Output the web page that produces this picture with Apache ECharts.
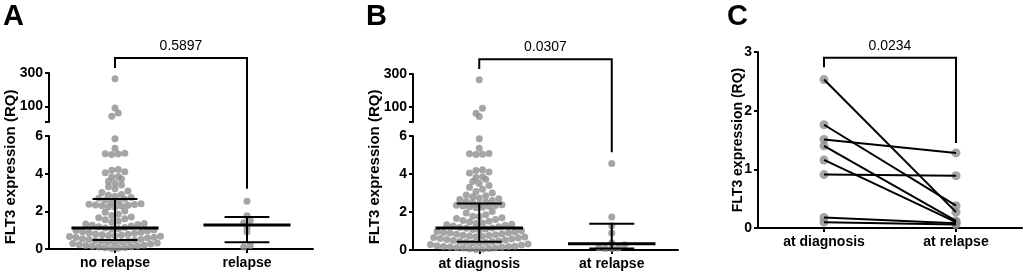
<!DOCTYPE html>
<html>
<head>
<meta charset="utf-8">
<script src="https://cdn.jsdelivr.net/npm/echarts@6/dist/echarts.min.js"></script>
<style>
html, body { margin: 0; padding: 0; background: #fff; }
#chart { width: 1025px; height: 274px; }
</style>
</head>
<body>
<div id="chart"></div>
<script>
// FLT3 expression (RQ) per patient
var noRelapse = [
    0.02, 0.04, 0.06, 0.08, 0.1, 0.12, 0.14, 0.16, 0.18, 0.2, 0.23, 0.26, 0.29, 0.32,
    0.35, 0.37, 0.39, 0.41, 0.43, 0.45, 0.47, 0.5, 0.52, 0.55, 0.58, 0.61, 0.63, 0.66, 0.68,
    0.7, 0.72, 0.74, 0.76, 0.78, 0.8, 0.83, 0.86, 0.89, 0.92, 0.95, 0.98, 1.01,
    1.05, 1.08, 1.11, 1.14, 1.18, 1.22, 1.26, 1.3, 1.33, 1.36,
    1.42, 1.48, 1.55, 1.6, 1.66, 1.7,
    1.78, 1.85, 1.95, 2.02,
    2.22, 2.25, 2.28, 2.3, 2.32, 2.34, 2.36, 2.38, 2.4,
    2.48, 2.55, 2.6, 2.66, 2.7, 2.74,
    2.8, 2.85, 2.9, 3.0, 3.08,
    3.2, 3.3, 3.4, 3.5, 3.6, 3.72,
    3.82, 3.85, 4.05, 4.1, 4.18, 4.22,
    5.02, 5.04, 5.06, 5.08, 5.35, 5.85,
    40, 60, 90, 265
];
// relapsed patients, paired: value at diagnosis / value at relapse
var pairDx = [2.53, 1.76, 1.51, 1.40, 1.16, 0.91, 0.18, 0.10];
var pairRx = [0.27, 0.38, 1.28, 0.12, 0.10, 0.89, 0.08, 0.06];
var extraRx = [4.55, 1.74];

var atDiagnosis = noRelapse.concat(pairDx);
var atRelapse = extraRx.concat(pairRx);

var catA = ['no relapse', 'relapse'];
var catB = ['at diagnosis', 'at relapse'];

// median, q1, q3 of each group
var statsA = [[0, 1.11, 0.48, 2.65], [1, 1.27, 0.36, 1.70]];
var statsB = [[0, 1.16, 0.43, 2.45], [1, 0.33, 0.08, 1.38]];

var lowTicks = [0, 2, 4, 6];
var highTicks = [100, 300];
var highTickMarks = [6, 100, 300];
var cTicks = [0, 1, 2, 3];

var pValues = ['0.5897', '0.0307', '0.0234'];
var bracketTop = [390, 390, 2.9];
var bracketLeft = [330, 330, 2.74];
var bracketRight = [3.2, 5.15, 1.45];

var FONT = 'Arial, "Liberation Sans", sans-serif';
var BLACK = '#000';
var DOT = '#8e8e8e';
var LOW_MAX = 6;

var chart = echarts.init(document.getElementById('chart'));

var line2 = {color: BLACK, width: 2};

function xAxis(grid, cats, show) {
    return {
        type: 'value', gridIndex: grid, min: -0.5, max: 1.5, show: show,
        axisLine: {show: true, onZero: false, lineStyle: line2},
        axisTick: {show: true, length: 4, customValues: [0, 1], lineStyle: line2},
        axisLabel: {
            customValues: [0, 1],
            formatter: function (v) { return cats[Math.round(v)]; },
            color: BLACK, fontWeight: 'bold', fontSize: 14, fontFamily: FONT, margin: 7
        },
        splitLine: {show: false}
    };
}

function yAxis(grid, min, max, labels, marks) {
    return {
        type: 'value', gridIndex: grid, min: min, max: max,
        axisLine: {show: true, onZero: false, lineStyle: line2},
        axisTick: {show: true, length: 4, customValues: marks || labels, lineStyle: line2},
        axisLabel: {
            customValues: labels, color: BLACK, fontWeight: 'bold',
            fontSize: 14, fontFamily: FONT, margin: 6
        },
        splitLine: {show: false}
    };
}

function gridAt(left, top, width, height) {
    return {left: left, top: top, width: width, height: height,
        containLabel: false, outerBoundsMode: 'none'};
}

function barItem(params, api) {
    var x = api.value(0), med = api.value(1), q1 = api.value(2), q3 = api.value(3);
    var a = api.coord([x - 0.33, med]), b = api.coord([x + 0.33, med]);
    var c1 = api.coord([x - 0.17, q1]), c2 = api.coord([x + 0.17, q1]);
    var d1 = api.coord([x - 0.17, q3]), d2 = api.coord([x + 0.17, q3]);
    var v1 = api.coord([x, q1]), v2 = api.coord([x, q3]);
    var st = {stroke: BLACK, lineWidth: 2};
    return {
        type: 'group',
        children: [
            {type: 'line', shape: {x1: v1[0], y1: v1[1], x2: v2[0], y2: v2[1]}, style: st},
            {type: 'line', shape: {x1: c1[0], y1: c1[1], x2: c2[0], y2: c2[1]}, style: st},
            {type: 'line', shape: {x1: d1[0], y1: d1[1], x2: d2[0], y2: d2[1]}, style: st},
            {type: 'line', shape: {x1: a[0], y1: a[1], x2: b[0], y2: b[1]},
                style: {stroke: BLACK, lineWidth: 3}}
        ]
    };
}

function dots(xi, yi) {
    return {type: 'scatter', xAxisIndex: xi, yAxisIndex: yi, symbolSize: 7,
        itemStyle: {color: DOT}, data: [], z: 2};
}

var option = {
    animation: false,
    grid: [
        gridAt(49, 73, 264, 49),     // A upper segment
        gridAt(49, 136, 264, 113),   // A lower segment
        gridAt(413, 74, 265, 48),    // B upper segment
        gridAt(413, 136, 265, 114),  // B lower segment
        gridAt(758, 52, 264, 176)    // C
    ],
    xAxis: [
        xAxis(0, catA, false), xAxis(1, catA, true),
        xAxis(2, catB, false), xAxis(3, catB, true),
        xAxis(4, catB, true)
    ],
    yAxis: [
        yAxis(0, 6, 300, highTicks, highTickMarks), yAxis(1, 0, 6, lowTicks),
        yAxis(2, 6, 300, highTicks, highTickMarks), yAxis(3, 0, 6, lowTicks),
        yAxis(4, 0, 3, cTicks)
    ],
    series: [
        dots(1, 1), dots(0, 0), dots(1, 1),
        {type: 'custom', xAxisIndex: 1, yAxisIndex: 1, renderItem: barItem, data: statsA, z: 5},
        dots(3, 3), dots(2, 2), dots(3, 3),
        {type: 'custom', xAxisIndex: 3, yAxisIndex: 3, renderItem: barItem, data: statsB, z: 5},
        {type: 'scatter', xAxisIndex: 4, yAxisIndex: 4, symbolSize: 9, itemStyle: {color: DOT}, z: 2,
            data: pairDx.map(function (v) { return [0, v]; }).concat(pairRx.map(function (v) { return [1, v]; }))}
    ]
};

pairDx.forEach(function (v, i) {
    option.series.push({
        type: 'line', xAxisIndex: 4, yAxisIndex: 4, symbol: 'none', z: 4,
        lineStyle: {color: BLACK, width: 2},
        data: [[0, v], [1, pairRx[i]]]
    });
});

chart.setOption(option);

// row-binned scatter (prism style): points of one pixel row are spread side by side
function swarm(values, xc, lowGrid, highGrid) {
    var D = 6.5;
    var unit = chart.convertToPixel({gridIndex: lowGrid}, [1, 0])[0] -
        chart.convertToPixel({gridIndex: lowGrid}, [0, 0])[0];
    var base = chart.convertToPixel({gridIndex: lowGrid}, [xc, 0])[1];
    var rows = {};
    var pts = values.map(function (v) {
        var g = v > LOW_MAX ? highGrid : lowGrid;
        var py = chart.convertToPixel({gridIndex: g}, [xc, v])[1];
        var p = {v: v, g: g, py: py};
        var r = Math.floor((base - py) / D);
        (rows[r] = rows[r] || []).push(p);
        return p;
    });
    Object.keys(rows).forEach(function (r) {
        var row = rows[r].sort(function (a, b) { return a.v - b.v; });
        var n = row.length;
        // center-out: alternate right / left
        var slots = [];
        for (var i = 0; i < n; i++) slots.push((i - (n - 1) / 2) * D);
        slots.sort(function (a, b) { return Math.abs(a) - Math.abs(b) || a - b; });
        row.forEach(function (p, i) { p.off = slots[i]; });
    });
    var low = [], high = [];
    pts.forEach(function (p) {
        var item = [xc + p.off / unit, p.v];
        (p.g === lowGrid ? low : high).push(item);
    });
    return {low: low, high: high};
}

var sA0 = swarm(noRelapse, 0, 1, 0);
var sA1 = swarm(pairDx, 1, 1, 0);
var sB0 = swarm(atDiagnosis, 0, 3, 2);
var sB1 = swarm(atRelapse, 1, 3, 2);

// significance brackets and texts
var bracketGrids = [[0, 1], [2, 3], [4, 4]];
var graphics = [];
bracketGrids.forEach(function (gs, i) {
    var l = chart.convertToPixel({gridIndex: gs[0]}, [0, bracketLeft[i]]);
    var t0 = chart.convertToPixel({gridIndex: gs[0]}, [0, bracketTop[i]]);
    var t1 = chart.convertToPixel({gridIndex: gs[0]}, [1, bracketTop[i]]);
    var r = chart.convertToPixel({gridIndex: gs[1]}, [1, bracketRight[i]]);
    graphics.push({
        type: 'polyline', z: 10,
        shape: {points: [[l[0], l[1]], [t0[0], t0[1]], [t1[0], t1[1]], [r[0], r[1]]]},
        style: {stroke: BLACK, lineWidth: 2, fill: null}
    });
    graphics.push({
        type: 'text', z: 10, x: (t0[0] + t1[0]) / 2, y: t0[1] - 5,
        style: {text: pValues[i], fontSize: 14, fontFamily: FONT, fill: BLACK,
            align: 'center', textAlign: 'center', verticalAlign: 'bottom', textVerticalAlign: 'bottom'}
    });
});

var letters = [['A', 3], ['B', 366], ['C', 727]];
letters.forEach(function (lt) {
    graphics.push({
        type: 'text', z: 10, x: lt[1], y: 2,
        style: {text: lt[0], fontSize: 29, fontWeight: 'bold', fontFamily: FONT, fill: BLACK,
            align: 'left', textAlign: 'left', verticalAlign: 'top', textVerticalAlign: 'top'}
    });
});

var titles = [[11, 167, 15], [375, 167, 15], [738, 140, 14]];
titles.forEach(function (tt) {
    graphics.push({
        type: 'text', z: 10, x: tt[0], y: tt[1], rotation: Math.PI / 2,
        style: {text: 'FLT3 expression (RQ)', fontSize: tt[2], fontWeight: 'bold', fontFamily: FONT, fill: BLACK,
            align: 'center', textAlign: 'center', verticalAlign: 'middle', textVerticalAlign: 'middle'}
    });
});

chart.setOption({
    series: [
        {data: sA0.low}, {data: sA0.high}, {data: sA1.low}, {},
        {data: sB0.low}, {data: sB0.high}, {data: sB1.low}
    ],
    graphic: graphics
});
</script>
</body>
</html>
